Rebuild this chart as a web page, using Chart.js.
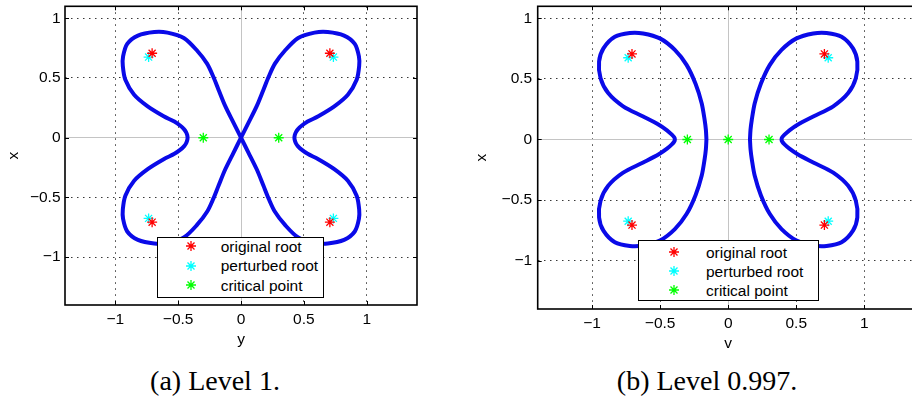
<!DOCTYPE html>
<html><head><meta charset="utf-8">
<script src="https://cdn.jsdelivr.net/npm/chart.js@4/dist/chart.umd.min.js"></script>
<style>
html,body{margin:0;padding:0;background:#fff;width:912px;height:403px;overflow:hidden;position:relative;}
.wrap{position:absolute;top:0;}
canvas{display:block;}
.lbox{position:absolute;background:#fff;border:1px solid #000;box-sizing:border-box;}
.ltxt{position:absolute;white-space:nowrap;font-family:"Liberation Sans",Arial,sans-serif;font-size:15.5px;line-height:19px;color:#000;}
.lmk{position:absolute;}
.caption{position:absolute;font-family:"Liberation Serif","Times New Roman",serif;font-size:28px;line-height:28px;white-space:nowrap;transform:translateX(-50%);color:#000;}
</style></head>
<body>
<div class="wrap" style="left:0;width:456px;height:350px"><canvas id="ca" width="456" height="350"></canvas></div>
<div class="wrap" style="left:456px;width:470px;height:355px"><canvas id="cb" width="470" height="355"></canvas></div>
<div id="legends"></div>
<div class="caption" id="capA" style="left:215px;top:366.5px"></div>
<div class="caption" id="capB" style="left:707px;top:366.5px"></div>
<script>
// ---------- data ----------
const tickValues = [-1, -0.5, 0, 0.5, 1];
const tickLabels = ['\u22121', '\u22120.5', '0', '0.5', '1'];
const legendLabels = ['original root', 'perturbed root', 'critical point'];
const legendColors = ['#ff0000', '#00ffff', '#00ff00'];
const captions = ['(a) Level 1.', '(b) Level 0.997.'];
const axisTitlesA = ['y', 'x'];
const axisTitlesB = ['v', 'x'];

// roots / critical points as [horizontal, vertical]
const originalRoots = [[-0.707, 0.707], [0.707, 0.707], [-0.707, -0.707], [0.707, -0.707]];
const perturbedRoots = [[-0.735, 0.675], [0.735, 0.675], [-0.735, -0.675], [0.735, -0.675]];
const criticalA = [[-0.3, 0], [0.3, 0]];
const criticalB = [[-0.3, 0], [0, 0], [0.3, 0]];

// level curve (a) Level 1
const curveALeft = [[0,0],[-0.06,0.126],[-0.125,0.264],[-0.178,0.40],[-0.22,0.51],[-0.27,0.62],[-0.35,0.73],[-0.455,0.835],[-0.585,0.88],[-0.69,0.885],[-0.82,0.855],[-0.905,0.785],[-0.938,0.68],[-0.94,0.6],[-0.92,0.485],[-0.85,0.36],[-0.745,0.265],[-0.615,0.18],[-0.53,0.135],[-0.482,0.1],[-0.452,0.07],[-0.436,0.045],[-0.428,0.022],[-0.425,0],
 [-0.428,-0.022],[-0.436,-0.045],[-0.452,-0.07],[-0.482,-0.1],[-0.53,-0.135],[-0.615,-0.18],[-0.745,-0.265],[-0.85,-0.36],[-0.92,-0.485],[-0.94,-0.6],[-0.938,-0.68],[-0.905,-0.785],[-0.82,-0.855],[-0.69,-0.885],[-0.585,-0.88],[-0.455,-0.835],[-0.35,-0.73],[-0.27,-0.62],[-0.22,-0.51],[-0.178,-0.40],[-0.125,-0.264],[-0.06,-0.126],[0,0]];
const curveARight = [[0,0],[0.06,0.126],[0.125,0.264],[0.178,0.40],[0.22,0.51],[0.27,0.62],[0.35,0.73],[0.455,0.835],[0.585,0.88],[0.69,0.885],[0.82,0.855],[0.905,0.785],[0.938,0.68],[0.94,0.6],[0.92,0.485],[0.85,0.36],[0.745,0.265],[0.615,0.18],[0.53,0.135],[0.482,0.1],[0.452,0.07],[0.436,0.045],[0.428,0.022],[0.425,0],
 [0.428,-0.022],[0.436,-0.045],[0.452,-0.07],[0.482,-0.1],[0.53,-0.135],[0.615,-0.18],[0.745,-0.265],[0.85,-0.36],[0.92,-0.485],[0.94,-0.6],[0.938,-0.68],[0.905,-0.785],[0.82,-0.855],[0.69,-0.885],[0.585,-0.88],[0.455,-0.835],[0.35,-0.73],[0.27,-0.62],[0.22,-0.51],[0.178,-0.40],[0.125,-0.264],[0.06,-0.126],[0,0]];

// level curve (b) Level 0.997
const curveBLeft = [[-0.16,0],[-0.164,0.08],[-0.173,0.16],[-0.195,0.3],[-0.24,0.46],[-0.306,0.616],[-0.392,0.74],[-0.502,0.835],[-0.625,0.876],[-0.723,0.88],[-0.833,0.849],[-0.917,0.753],[-0.949,0.643],[-0.938,0.506],[-0.882,0.383],[-0.772,0.274],[-0.625,0.19],[-0.51,0.122],[-0.45,0.076],[-0.414,0.04],[-0.397,0.018],[-0.392,0],
 [-0.397,-0.018],[-0.414,-0.04],[-0.45,-0.076],[-0.51,-0.122],[-0.625,-0.19],[-0.772,-0.274],[-0.882,-0.383],[-0.938,-0.506],[-0.949,-0.643],[-0.917,-0.753],[-0.833,-0.849],[-0.723,-0.88],[-0.625,-0.876],[-0.502,-0.835],[-0.392,-0.74],[-0.306,-0.616],[-0.24,-0.46],[-0.195,-0.3],[-0.173,-0.16],[-0.164,-0.08],[-0.16,0]];
const curveBRight = [[0.16,0],[0.164,0.08],[0.173,0.16],[0.195,0.3],[0.24,0.46],[0.306,0.616],[0.392,0.74],[0.502,0.835],[0.625,0.876],[0.723,0.88],[0.833,0.849],[0.917,0.753],[0.949,0.643],[0.938,0.506],[0.882,0.383],[0.772,0.274],[0.625,0.19],[0.51,0.122],[0.45,0.076],[0.414,0.04],[0.397,0.018],[0.392,0],
 [0.397,-0.018],[0.414,-0.04],[0.45,-0.076],[0.51,-0.122],[0.625,-0.19],[0.772,-0.274],[0.882,-0.383],[0.938,-0.506],[0.949,-0.643],[0.917,-0.753],[0.833,-0.849],[0.723,-0.88],[0.625,-0.876],[0.502,-0.835],[0.392,-0.74],[0.306,-0.616],[0.24,-0.46],[0.195,-0.3],[0.173,-0.16],[0.164,-0.08],[0.16,0]];

// ---------- rendering ----------
const toXY = arr => arr.map(p => ({x: p[0], y: p[1]}));
const FONT = {family: '"Liberation Sans", Arial, sans-serif', size: 15.5};
const CURVE_COLOR = '#0a0ae8';

const framePlugin = {
  id: 'frame',
  afterDatasetsDraw(chart) {
    const {ctx, chartArea: {left, right, top, bottom}, scales: {x, y}} = chart;
    ctx.save();
    ctx.setLineDash([]);
    ctx.strokeStyle = '#000';
    ctx.lineWidth = 1;
    ctx.beginPath();
    tickValues.forEach(v => {
      const px = Math.round(x.getPixelForValue(v)) + 0.5;
      ctx.moveTo(px, bottom); ctx.lineTo(px, bottom - 4);
      ctx.moveTo(px, top); ctx.lineTo(px, top + 4);
      const py = Math.round(y.getPixelForValue(v)) + 0.5;
      ctx.moveTo(left, py); ctx.lineTo(left + 4, py);
      ctx.moveTo(right, py); ctx.lineTo(right - 4, py);
    });
    ctx.stroke();
    ctx.lineWidth = 1.6;
    ctx.strokeRect(left, top, right - left, bottom - top);
    ctx.restore();
  }
};

function markerSet(label, pts, color) {
  return {label, data: toXY(pts), showLine: false, pointStyle: 'star', pointRadius: 5,
    pointBorderWidth: 1.3, borderColor: color, backgroundColor: color, pointHoverRadius: 5, order: 0};
}
function curveSet(pts) {
  return {label: 'curve', data: toXY(pts), showLine: true, pointRadius: 0, pointHoverRadius: 0,
    borderColor: CURVE_COLOR, borderWidth: 4, tension: 0.3, fill: false,
    borderJoinStyle: 'round', borderCapStyle: 'round', order: 1};
}

function gridColor(c) { return (c.tick && c.tick.value === 0) ? '#c4c4c4' : 'rgba(0,0,0,0.78)'; }
function gridDash(c) { return (c.tick && c.tick.value === 0) ? [] : [1.5, 4.5]; }

function makeChart(id, datasets, g, titles) {
  const tickCb = v => { const i = tickValues.indexOf(v); return i >= 0 ? tickLabels[i] : ''; };
  return new Chart(document.getElementById(id), {
    type: 'scatter',
    data: {datasets},
    options: {
      responsive: false, animation: false, events: [],
      layout: {padding: {left: 0, right: g.padR, top: g.padT, bottom: 0}},
      plugins: {legend: {display: false}, tooltip: {enabled: false}},
      scales: {
        x: {
          type: 'linear', min: -1.4, max: 1.4,
          afterBuildTicks: s => { s.ticks = tickValues.map(v => ({value: v})); },
          afterFit: s => { s.height = g.xH; s.paddingLeft = 0; s.paddingRight = 0; s.paddingTop = 0; s.paddingBottom = 0; },
          ticks: {callback: tickCb, font: FONT, color: '#000', padding: 5.5, maxRotation: 0, autoSkip: false},
          grid: {color: gridColor, lineWidth: 1, drawTicks: false},
          border: {display: false, dash: gridDash},
          title: {display: true, text: titles[0], font: FONT, color: '#000', padding: {top: 0, bottom: g.xTitlePad}}
        },
        y: {
          type: 'linear', min: -1.4, max: 1.1,
          afterBuildTicks: s => { s.ticks = tickValues.map(v => ({value: v})); },
          afterFit: s => { s.width = g.yW; s.paddingLeft = 0; s.paddingRight = 0; s.paddingTop = 0; s.paddingBottom = 0; },
          ticks: {callback: tickCb, font: FONT, color: '#000', padding: g.yTickPad, autoSkip: false},
          grid: {color: gridColor, lineWidth: 1, drawTicks: false},
          border: {display: false, dash: gridDash},
          title: {display: true, text: titles[1], font: FONT, color: '#000', padding: {top: g.yTitlePad, bottom: 0}}
        }
      }
    },
    plugins: [framePlugin]
  });
}

makeChart('ca', [
  markerSet(legendLabels[0], originalRoots, legendColors[0]),
  markerSet(legendLabels[1], perturbedRoots, legendColors[1]),
  markerSet(legendLabels[2], criticalA, legendColors[2]),
  curveSet(curveALeft), curveSet(curveARight)
], {padR: 39, padT: 2, xH: 45, yW: 65, xTitlePad: 0.7, yTitlePad: 4, yTickPad: 4.5}, axisTitlesA);

makeChart('cb', [
  markerSet(legendLabels[0], originalRoots, legendColors[0]),
  markerSet(legendLabels[1], perturbedRoots, legendColors[1]),
  markerSet(legendLabels[2], criticalB, legendColors[2]),
  curveSet(curveBLeft), curveSet(curveBRight)
], {padR: 7.3, padT: 5, xH: 46, yW: 81.7, xTitlePad: 1.7, yTitlePad: 16, yTickPad: 5.5}, axisTitlesB);

// legends (HTML text, star markers as SVG)
function buildLegend(box, markerX, markerYs, textX) {
  const root = document.getElementById('legends');
  const b = document.createElement('div');
  b.className = 'lbox';
  Object.assign(b.style, {left: box[0] + 'px', top: box[1] + 'px', width: box[2] + 'px', height: box[3] + 'px'});
  root.appendChild(b);
  legendLabels.forEach((lab, i) => {
    const my = markerYs[i];
    const svgNS = 'http://www.w3.org/2000/svg';
    const svg = document.createElementNS(svgNS, 'svg');
    svg.setAttribute('width', '12'); svg.setAttribute('height', '12');
    svg.setAttribute('viewBox', '-6 -6 12 12');
    svg.setAttribute('class', 'lmk');
    svg.style.left = (markerX - 6) + 'px'; svg.style.top = (my - 6) + 'px';
    const p = document.createElementNS(svgNS, 'path');
    p.setAttribute('d', 'M-5 0H5M0 -5V5M-3.5 -3.5L3.5 3.5M-3.5 3.5L3.5 -3.5');
    p.setAttribute('stroke', legendColors[i]); p.setAttribute('stroke-width', '1.3'); p.setAttribute('fill', 'none');
    svg.appendChild(p);
    root.appendChild(svg);
    const t = document.createElement('div');
    t.className = 'ltxt';
    t.textContent = lab;
    t.style.left = textX + 'px';
    t.style.top = (my + 5.5 - 14.87) + 'px';
    root.appendChild(t);
  });
}
buildLegend([157, 236.5, 167, 61.5], 190.7, [246, 265.5, 285], 220.7);
buildLegend([638, 240, 181, 61], 674.3, [252.3, 271.3, 290.3], 706);

document.getElementById('capA').textContent = captions[0];
document.getElementById('capB').textContent = captions[1];
</script>
</body></html>
